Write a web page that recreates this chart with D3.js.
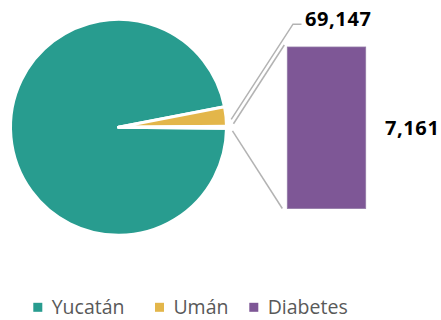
<!DOCTYPE html>
<html>
<head>
<meta charset="utf-8">
<script src="https://cdn.jsdelivr.net/npm/d3@7"></script>
<style>
  html, body { margin: 0; padding: 0; background: #fff; }
  svg { display: block; }
</style>
</head>
<body>
<svg id="chart" width="441" height="320"></svg>
<script>
// Pie slices (population) and the split-out bar (diabetes cases)
const pieCategories = ["Yucatán", "Umán", "Diabetes"];
const pieValues = [2320898, 69147, 7161];
const barCategories = ["Diabetes"];
const barValues = [7161];
const pieLabels = ["", "69,147", ""];
const barLabels = ["7,161"];
const legendLabels = ["Yucatán", "Umán", "Diabetes"];

const colors = { "Yucatán": "#289C8F", "Umán": "#E3B64A", "Diabetes": "#7E5796" };
const sliceFill = { "Yucatán": "#289C8F", "Umán": "#E3B64A", "Diabetes": "#ffffff" };

const svg = d3.select("#chart");
const cx = 118.5, cy = 127.3, r = 108;
const strokeW = 3;

// Rotate so the split-out slice is centred on the right-hand side
const total = d3.sum(pieValues);
const otherAngle = pieValues[2] / total * 2 * Math.PI;
const start = Math.PI / 2 + otherAngle / 2;

const pie = d3.pie().sort(null).value(d => d.value)
  .startAngle(start).endAngle(start + 2 * Math.PI);
const arcs = pie(pieCategories.map((c, i) => ({ cat: c, value: pieValues[i], label: pieLabels[i] })));
const arc = d3.arc().innerRadius(0).outerRadius(r);

const g = svg.append("g").attr("transform", `translate(${cx},${cy})`);
g.selectAll("path").data(arcs).join("path")
  .attr("d", arc)
  .attr("fill", d => sliceFill[d.data.cat])
  .attr("stroke", "#fff")
  .attr("stroke-width", strokeW)
  .attr("stroke-linejoin", "round");

// Bar of the split-out slice
const barX0 = 287.3, barX1 = 365.7;
const y = d3.scaleLinear().domain([0, d3.sum(barValues)]).range([208.5, 47]);
let acc = 0;
const barData = barValues.map((v, i) => { const d = { cat: barCategories[i], y0: acc, y1: acc + v, label: barLabels[i] }; acc += v; return d; });
svg.selectAll("rect.bar").data(barData).join("rect")
  .attr("class", "bar")
  .attr("x", barX0).attr("width", barX1 - barX0)
  .attr("y", d => y(d.y1)).attr("height", d => y(d.y0) - y(d.y1))
  .attr("fill", colors.Diabetes)
  .attr("stroke", "#9279a6").attr("stroke-width", 0.8);

svg.selectAll("text.barlabel").data(barData).join("text")
  .attr("class", "barlabel")
  .attr("x", 385)
  .attr("y", d => (y(d.y0) + y(d.y1)) / 2 + 7.3)
  .attr("font-family", "'Open Sans', sans-serif")
  .attr("font-weight", 700)
  .attr("font-size", 20)
  .attr("letter-spacing", 0.6)
  .attr("fill", "#000")
  .text(d => d.label);

// Connector lines from the split-out slice edges to the bar corners
const other = arcs[2];
function edgePoint(angle, rad, shift) {
  // d3 angles: 0 at top, clockwise
  const px = cx + rad * Math.sin(angle);
  const py = cy - rad * Math.cos(angle);
  return [px + shift * Math.cos(angle), py + shift * Math.sin(angle)];
}
const lineColor = "#B3B3B3";
const pTop = edgePoint(other.startAngle, r + 7, -(strokeW / 2 + 1));
const pBot = edgePoint(other.endAngle, r + 6, (strokeW / 2 + 1));
svg.append("line")
  .attr("x1", pTop[0]).attr("y1", pTop[1])
  .attr("x2", barX0 - 3).attr("y2", y(d3.sum(barValues)) - 2)
  .attr("stroke", lineColor).attr("stroke-width", 1.5);
svg.append("line")
  .attr("x1", pBot[0]).attr("y1", pBot[1])
  .attr("x2", barX0 - 5).attr("y2", y(0))
  .attr("stroke", lineColor).attr("stroke-width", 1.5);

// Leader line and label for the Umán slice
const uman = arcs[1];
const mid = (uman.startAngle + uman.endAngle) / 2;
const lp = edgePoint(mid + 0.03, r + 5, 0);
const labelY = 25.7;
svg.append("polyline")
  .attr("points", [[lp[0], lp[1]], [293, labelY - 1.5], [301.5, labelY - 1.5]].map(p => p.join(",")).join(" "))
  .attr("fill", "none")
  .attr("stroke", lineColor).attr("stroke-width", 1.5);
svg.append("text")
  .attr("x", 305).attr("y", labelY)
  .attr("font-family", "'Open Sans', sans-serif")
  .attr("font-weight", 700)
  .attr("font-size", 20)
  .attr("letter-spacing", 0.6)
  .attr("fill", "#000")
  .text(uman.data.label);

// Legend
const legendX = [33.3, 155, 249.3];
const lg = svg.selectAll("g.legend").data(legendLabels).join("g")
  .attr("class", "legend")
  .attr("transform", (d, i) => `translate(${legendX[i]},0)`);
lg.append("rect")
  .attr("x", 0).attr("y", 302.8).attr("width", 9).attr("height", 9)
  .attr("fill", d => colors[d]);
lg.append("text")
  .attr("x", 18.4).attr("y", 314)
  .attr("font-family", "'Open Sans', sans-serif")
  .attr("font-size", 19.5)
  .attr("fill", "#595959")
  .text(d => d);
</script>
</body>
</html>
